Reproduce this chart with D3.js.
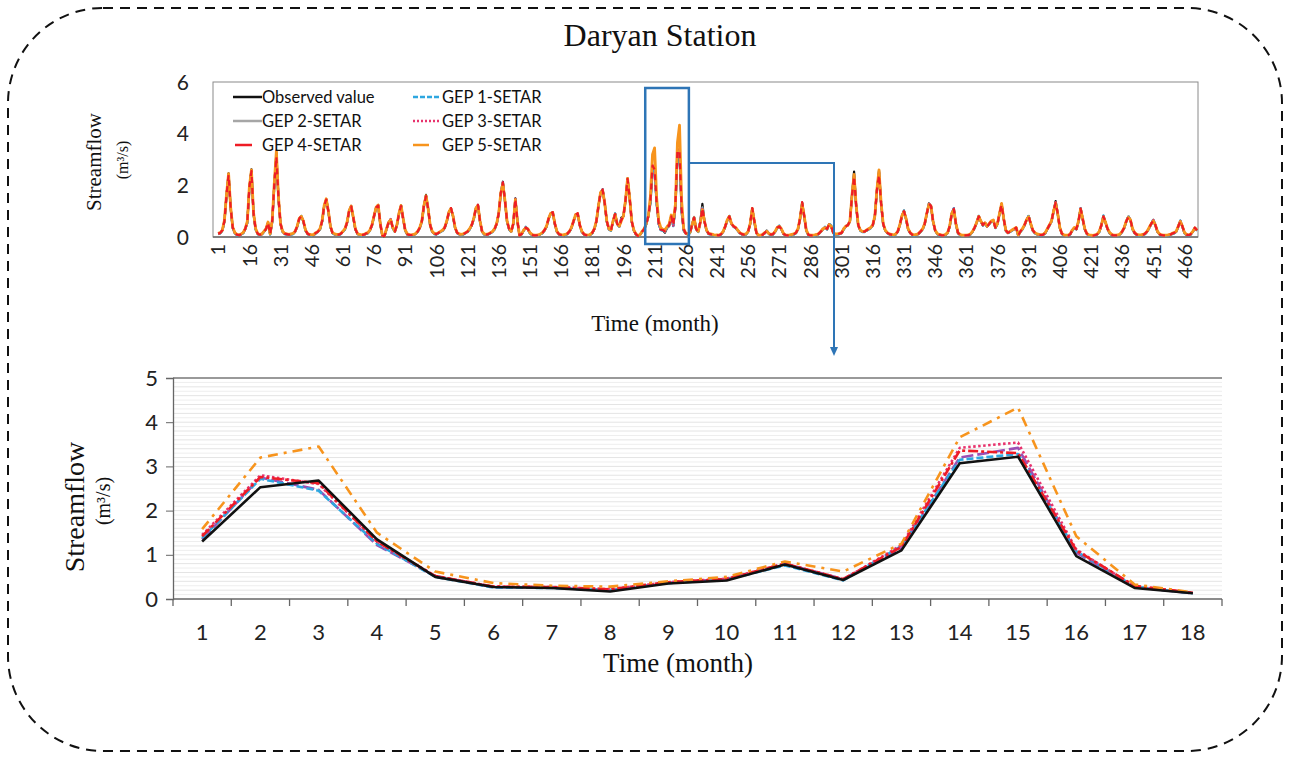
<!DOCTYPE html>
<html>
<head>
<meta charset="utf-8">
<script src="https://cdn.jsdelivr.net/npm/d3@7"></script>
<style>
  html, body { margin: 0; padding: 0; background: #fff; }
  svg { display: block; }
</style>
</head>
<body>
<svg id="chart" width="1290" height="757"></svg>
<script>
// Monthly streamflow (m3/s), months 1..472, Daryan station
const observed = [
  .12,.15,.25,.6,1.6,2.46,1.1,.35,.15,.08,.06,.1,
  .15,.3,.55,1.9,2.62,.9,.3,.12,.08,.1,.2,.3,
  .55,.1,.6,2,3.25,1.5,.5,.2,.12,.1,.08,.1,
  .12,.2,.4,.7,.79,.6,.25,.12,.08,.06,.08,.15,
  .2,.3,.6,1.2,1.46,1,.4,.15,.1,.08,.08,.12,
  .2,.3,.55,1,1.2,.75,.3,.12,.08,.06,.08,.12,
  .15,.25,.45,.8,1.15,1.24,.5,.05,.02,.3,.55,.68,
  .35,.2,.45,.9,1.22,.7,.25,.1,.07,.06,.08,.12,
  .2,.35,.6,1.2,1.63,1.1,.45,.2,.12,.1,.15,.2,
  .25,.35,.6,.95,1.11,.8,.35,.15,.1,.08,.1,.15,
  .2,.3,.45,.7,1.1,1.24,.6,.2,.1,.08,.1,.15,
  .2,.3,.5,.9,1.7,2.14,1.4,.6,.3,.2,.5,1.5,
  .6,.05,.1,.25,.37,.3,.15,.08,.05,.05,.06,.1,
  .15,.25,.4,.7,.9,.94,.5,.2,.1,.07,.06,.08,
  .12,.2,.35,.6,.85,.89,.45,.2,.1,.06,.05,.08,
  .15,.3,.6,1.2,1.7,1.85,1.3,.6,.3,.25,.6,.9,
  .5,.4,.75,.8,1.4,2.27,1.5,.6,.25,.1,.03,.08,
  .2,.3,.5,.8,1.3,2.53,2.68,1.35,.5,.27,.25,.17,
  .35,.42,.78,.43,1.1,3.07,3.22,.97,.25,.13,.1,.15,
  .45,.76,.3,.2,.6,1.28,.6,.25,.12,.1,.08,.05,
  .06,.05,.1,.2,.4,.65,.79,.5,.4,.35,.25,.15,
  .1,.08,.1,.2,.5,1.11,.6,.15,.05,.05,.08,.15,
  .25,.12,.08,.1,.2,.35,.4,.3,.12,.06,.05,.06,
  .08,.1,.15,.3,.7,1.33,.8,.25,.08,.05,.05,.06,
  .08,.12,.2,.3,.37,.3,.5,.4,.15,.1,.1,.12,
  .15,.3,.4,.46,.6,1.6,2.53,1.2,.45,.25,.2,.2,
  .25,.3,.35,.45,.8,1.8,2.57,1.3,.5,.25,.15,.1,
  .08,.06,.1,.2,.45,.8,1.02,.7,.3,.15,.08,.06,
  .08,.12,.2,.3,.5,.9,1.3,1.2,.6,.25,.12,.08,
  .06,.05,.08,.15,.4,.9,1.11,.5,.15,.08,.05,.05,
  .05,.06,.1,.2,.35,.55,.81,.6,.45,.55,.4,.5,
  .6,.64,.35,.5,.9,1.28,.7,.25,.15,.2,.25,.3,
  .35,.05,.2,.3,.45,.65,.81,.5,.25,.15,.1,.08,
  .06,.08,.15,.3,.45,.6,1,1.39,.9,.35,.12,.06,
  .05,.05,.1,.25,.35,.3,.6,1.11,.7,.3,.12,.06,
  .05,.04,.06,.1,.2,.45,.81,.55,.3,.15,.08,.05,
  .05,.06,.1,.2,.35,.6,.79,.65,.3,.15,.08,.06,
  .06,.08,.12,.2,.35,.5,.66,.45,.2,.1,.06,.05,
  .05,.06,.08,.12,.15,.2,.4,.62,.4,.15,.08,.06,
  .1,.2,.35,.25
];

const gep1 = [
  .11,.14,.24,.58,1.55,2.38,1.08,.34,.14,.07,.05,.09,
  .14,.29,.53,1.85,2.5,.88,.29,.11,.07,.09,.19,.29,
  .53,.09,.58,1.95,3,1.45,.48,.19,.11,.09,.07,.09,
  .11,.19,.39,.68,.82,.58,.24,.11,.07,.05,.07,.14,
  .19,.29,.58,1.18,1.42,.98,.39,.14,.09,.07,.07,.11,
  .19,.29,.54,.98,1.15,.73,.29,.11,.07,.05,.07,.11,
  .14,.24,.44,.78,1.12,1.2,.49,.05,.03,.29,.53,.7,
  .34,.19,.44,.88,1.18,.69,.24,.09,.06,.05,.07,.11,
  .19,.34,.59,1.18,1.55,1.08,.44,.19,.11,.09,.14,.19,
  .24,.34,.59,.93,1.08,.79,.34,.14,.09,.07,.09,.14,
  .19,.29,.44,.69,1.08,1.2,.59,.19,.09,.07,.09,.14,
  .19,.29,.49,.89,1.68,2.05,1.38,.59,.29,.19,.49,1.42,
  .59,.05,.09,.24,.4,.29,.14,.07,.04,.04,.05,.09,
  .14,.24,.39,.69,.89,.98,.49,.19,.09,.06,.05,.07,
  .11,.19,.34,.59,.84,.9,.44,.19,.09,.05,.04,.07,
  .14,.29,.59,1.18,1.68,1.8,1.29,.59,.29,.24,.59,.92,
  .49,.39,.68,.79,1.38,2.2,1.49,.59,.24,.09,.03,.07,
  .19,.29,.49,.79,1.38,2.72,2.45,1.25,.5,.26,.25,.2,
  .36,.44,.76,.42,1.2,3.15,3.28,1.08,.28,.13,.09,.14,
  .44,.8,.29,.19,.56,1.1,.59,.24,.11,.09,.07,.05,
  .05,.05,.09,.19,.39,.64,.82,.49,.39,.34,.24,.14,
  .09,.07,.09,.19,.49,1.08,.59,.14,.05,.05,.07,.14,
  .22,.11,.07,.09,.19,.34,.45,.29,.11,.05,.05,.05,
  .07,.09,.14,.29,.69,1.3,.79,.24,.07,.05,.05,.05,
  .07,.11,.19,.29,.4,.29,.52,.45,.14,.09,.09,.11,
  .14,.29,.39,.48,.59,1.58,2.32,1.19,.44,.24,.19,.19,
  .24,.29,.34,.44,.79,1.78,2.45,1.29,.49,.24,.14,.09,
  .07,.05,.09,.19,.44,.79,1.02,.69,.29,.14,.07,.05,
  .07,.11,.19,.29,.49,.89,1.26,1.19,.59,.24,.11,.07,
  .05,.05,.07,.14,.39,.89,1.12,.49,.14,.07,.05,.05,
  .05,.05,.09,.19,.34,.54,.82,.59,.44,.54,.39,.49,
  .59,.63,.34,.49,.89,1.26,.69,.24,.14,.19,.24,.29,
  .34,.05,.19,.29,.44,.64,.84,.49,.24,.14,.09,.07,
  .05,.07,.14,.29,.44,.59,.98,1.32,.89,.34,.11,.05,
  .05,.05,.09,.24,.34,.29,.59,1.12,.69,.29,.11,.05,
  .05,.04,.05,.09,.19,.44,.84,.54,.29,.14,.07,.05,
  .05,.05,.09,.19,.34,.59,.82,.64,.29,.14,.07,.05,
  .05,.07,.11,.19,.34,.49,.7,.44,.19,.09,.05,.05,
  .05,.05,.07,.11,.14,.19,.39,.64,.39,.14,.07,.05,
  .09,.19,.34,.24
];

const gep2 = [
  .12,.15,.25,.6,1.58,2.42,1.1,.35,.15,.08,.06,.1,
  .15,.3,.55,1.88,2.58,.9,.3,.12,.08,.1,.2,.3,
  .55,.1,.6,2,3.15,1.48,.5,.2,.12,.1,.08,.1,
  .12,.2,.4,.7,.8,.6,.25,.12,.08,.06,.08,.15,
  .2,.3,.6,1.2,1.44,1,.4,.15,.1,.08,.08,.12,
  .2,.3,.55,1,1.17,.75,.3,.12,.08,.06,.08,.12,
  .15,.25,.45,.8,1.13,1.22,.5,.05,.03,.3,.55,.7,
  .35,.2,.45,.9,1.2,.7,.25,.1,.07,.06,.08,.12,
  .2,.35,.6,1.2,1.58,1.1,.45,.2,.12,.1,.15,.2,
  .25,.35,.6,.95,1.1,.8,.35,.15,.1,.08,.1,.15,
  .2,.3,.45,.7,1.1,1.22,.6,.2,.1,.08,.1,.15,
  .2,.3,.5,.9,1.7,2.1,1.4,.6,.3,.2,.5,1.45,
  .6,.05,.1,.25,.38,.3,.15,.08,.05,.05,.06,.1,
  .15,.25,.4,.7,.9,.95,.5,.2,.1,.07,.06,.08,
  .12,.2,.35,.6,.85,.9,.45,.2,.1,.06,.05,.08,
  .15,.3,.6,1.2,1.7,1.83,1.3,.6,.3,.25,.6,.9,
  .5,.4,.7,.8,1.4,2.24,1.5,.6,.25,.1,.04,.08,
  .2,.3,.5,.8,1.35,2.75,2.47,1.22,.52,.27,.26,.2,
  .37,.45,.8,.45,1.15,3.2,3.42,1.05,.27,.13,.1,.15,
  .45,.78,.3,.2,.58,1.15,.6,.25,.12,.1,.08,.05,
  .06,.05,.1,.2,.4,.65,.81,.5,.4,.35,.25,.15,
  .1,.08,.1,.2,.5,1.1,.6,.15,.05,.05,.08,.15,
  .24,.12,.08,.1,.2,.35,.42,.3,.12,.06,.05,.06,
  .08,.1,.15,.3,.7,1.32,.8,.25,.08,.05,.05,.06,
  .08,.12,.2,.3,.38,.3,.5,.42,.15,.1,.1,.12,
  .15,.3,.4,.47,.6,1.6,2.4,1.2,.45,.25,.2,.2,
  .25,.3,.35,.45,.8,1.8,2.5,1.3,.5,.25,.15,.1,
  .08,.06,.1,.2,.45,.8,1.02,.7,.3,.15,.08,.06,
  .08,.12,.2,.3,.5,.9,1.28,1.2,.6,.25,.12,.08,
  .06,.05,.08,.15,.4,.9,1.12,.5,.15,.08,.05,.05,
  .05,.06,.1,.2,.35,.55,.82,.6,.45,.55,.4,.5,
  .6,.64,.35,.5,.9,1.27,.7,.25,.15,.2,.25,.3,
  .35,.05,.2,.3,.45,.65,.82,.5,.25,.15,.1,.08,
  .06,.08,.15,.3,.45,.6,1,1.35,.9,.35,.12,.06,
  .05,.05,.1,.25,.35,.3,.6,1.1,.7,.3,.12,.06,
  .05,.04,.06,.1,.2,.45,.82,.55,.3,.15,.08,.05,
  .05,.06,.1,.2,.35,.6,.8,.65,.3,.15,.08,.06,
  .06,.08,.12,.2,.35,.5,.67,.45,.2,.1,.06,.05,
  .05,.06,.08,.12,.15,.2,.4,.63,.4,.15,.08,.06,
  .1,.2,.35,.25
];

const gep3 = [
  .13,.16,.26,.63,1.63,2.44,1.13,.37,.16,.09,.07,.11,
  .16,.31,.58,1.93,2.6,.93,.32,.13,.09,.11,.21,.31,
  .57,.11,.63,2.05,3.2,1.53,.52,.21,.13,.11,.09,.11,
  .13,.21,.41,.72,.81,.62,.26,.13,.09,.07,.09,.16,
  .21,.31,.62,1.22,1.47,1.02,.42,.16,.11,.09,.09,.13,
  .21,.31,.57,1.02,1.19,.77,.31,.13,.09,.07,.09,.13,
  .16,.26,.47,.82,1.15,1.23,.52,.06,.03,.31,.57,.69,
  .37,.21,.47,.92,1.21,.72,.26,.11,.08,.07,.09,.13,
  .21,.37,.62,1.22,1.6,1.12,.47,.21,.13,.11,.16,.21,
  .26,.37,.62,.97,1.12,.82,.37,.16,.11,.09,.11,.16,
  .21,.31,.47,.72,1.12,1.24,.62,.21,.11,.09,.11,.16,
  .21,.31,.52,.92,1.72,2.12,1.42,.62,.31,.21,.52,1.48,
  .62,.06,.11,.26,.37,.31,.16,.09,.06,.06,.07,.11,
  .16,.26,.42,.72,.92,.96,.52,.21,.11,.08,.07,.09,
  .13,.21,.37,.62,.87,.91,.47,.21,.11,.07,.06,.09,
  .16,.31,.62,1.22,1.72,1.84,1.32,.62,.31,.26,.62,.9,
  .52,.42,.68,.82,1.42,2.26,1.52,.62,.26,.11,.04,.09,
  .21,.31,.52,.82,1.45,2.8,2.6,1.3,.52,.28,.27,.22,
  .38,.46,.8,.44,1.22,3.42,3.54,1.12,.28,.14,.11,.16,
  .46,.76,.31,.21,.57,1.13,.62,.26,.13,.11,.09,.06,
  .07,.06,.11,.21,.42,.67,.8,.52,.42,.37,.26,.16,
  .11,.09,.11,.21,.52,1.11,.62,.16,.06,.06,.09,.16,
  .23,.13,.09,.11,.21,.37,.41,.31,.13,.07,.06,.07,
  .09,.11,.16,.31,.72,1.32,.82,.26,.09,.06,.06,.07,
  .09,.13,.21,.31,.37,.31,.49,.41,.16,.11,.11,.13,
  .16,.31,.41,.46,.62,1.62,2.38,1.22,.47,.26,.21,.21,
  .26,.31,.36,.47,.82,1.83,2.52,1.32,.52,.26,.16,.11,
  .09,.07,.11,.21,.47,.82,1.01,.72,.31,.16,.09,.07,
  .09,.13,.21,.31,.52,.92,1.28,1.22,.62,.26,.13,.09,
  .07,.06,.09,.16,.42,.92,1.1,.52,.16,.09,.06,.06,
  .06,.07,.11,.21,.37,.57,.81,.62,.47,.56,.41,.51,
  .62,.65,.37,.52,.92,1.27,.72,.26,.16,.21,.26,.31,
  .37,.06,.21,.31,.47,.67,.81,.52,.26,.16,.11,.09,
  .07,.09,.16,.31,.47,.62,1.01,1.34,.92,.37,.13,.07,
  .06,.06,.11,.26,.37,.31,.62,1.1,.72,.31,.13,.07,
  .06,.05,.07,.11,.21,.47,.81,.57,.31,.16,.09,.06,
  .06,.07,.11,.21,.37,.62,.79,.67,.31,.16,.09,.07,
  .07,.09,.13,.21,.37,.52,.66,.47,.21,.11,.07,.06,
  .06,.07,.09,.13,.16,.21,.42,.62,.42,.16,.09,.07,
  .11,.21,.36,.26
];

const gep4 = [
  .13,.16,.26,.62,1.62,2.4,1.12,.36,.16,.09,.07,.11,
  .16,.31,.57,1.92,2.55,.92,.31,.13,.09,.11,.21,.31,
  .56,.11,.62,2.05,3.1,1.52,.51,.21,.13,.11,.09,.11,
  .13,.21,.41,.71,.8,.61,.26,.13,.09,.07,.09,.16,
  .21,.31,.61,1.21,1.45,1.01,.41,.16,.11,.09,.09,.13,
  .21,.31,.56,1.01,1.18,.76,.31,.13,.09,.07,.09,.13,
  .16,.26,.46,.81,1.14,1.22,.51,.06,.03,.31,.56,.67,
  .36,.21,.46,.91,1.2,.71,.26,.11,.08,.07,.09,.13,
  .21,.36,.61,1.21,1.58,1.11,.46,.21,.13,.11,.16,.21,
  .26,.36,.61,.96,1.12,.81,.36,.16,.11,.09,.11,.16,
  .21,.31,.46,.71,1.11,1.25,.61,.21,.11,.09,.11,.16,
  .21,.31,.51,.91,1.71,2.1,1.41,.61,.31,.21,.51,1.48,
  .61,.06,.11,.26,.36,.31,.16,.09,.06,.06,.07,.11,
  .16,.26,.41,.71,.91,.96,.51,.21,.11,.08,.07,.09,
  .13,.21,.36,.61,.86,.92,.46,.21,.11,.07,.06,.09,
  .16,.31,.61,1.21,1.71,1.82,1.31,.61,.31,.26,.61,.89,
  .51,.41,.66,.81,1.41,2.25,1.51,.61,.26,.11,.04,.09,
  .21,.31,.51,.81,1.42,2.76,2.62,1.3,.52,.28,.27,.22,
  .38,.45,.8,.45,1.18,3.36,3.3,1.1,.3,.14,.11,.16,
  .46,.75,.31,.21,.58,1.12,.61,.26,.13,.11,.09,.06,
  .07,.06,.11,.21,.41,.66,.8,.51,.41,.36,.26,.16,
  .11,.09,.11,.21,.51,1.12,.61,.16,.06,.06,.09,.16,
  .23,.13,.09,.11,.21,.36,.41,.31,.13,.07,.06,.07,
  .09,.11,.16,.31,.71,1.35,.81,.26,.09,.06,.06,.07,
  .09,.13,.21,.31,.37,.31,.49,.41,.16,.11,.11,.13,
  .16,.31,.41,.46,.61,1.61,2.35,1.21,.46,.26,.21,.21,
  .26,.31,.36,.46,.81,1.82,2.4,1.31,.51,.26,.16,.11,
  .09,.07,.11,.21,.46,.81,1,.71,.31,.16,.09,.07,
  .09,.13,.21,.31,.51,.91,1.28,1.21,.61,.26,.13,.09,
  .07,.06,.09,.16,.41,.91,1.08,.51,.16,.09,.06,.06,
  .06,.07,.11,.21,.36,.56,.8,.61,.46,.56,.41,.51,
  .61,.65,.36,.51,.91,1.25,.71,.26,.16,.21,.26,.31,
  .36,.06,.21,.31,.46,.66,.8,.51,.26,.16,.11,.09,
  .07,.09,.16,.31,.46,.61,1,1.33,.91,.36,.13,.07,
  .06,.06,.11,.26,.36,.31,.61,1.1,.71,.31,.13,.07,
  .06,.05,.07,.11,.21,.46,.8,.56,.31,.16,.09,.06,
  .06,.07,.11,.21,.36,.61,.78,.66,.31,.16,.09,.07,
  .07,.09,.13,.21,.36,.51,.64,.46,.21,.11,.07,.06,
  .06,.07,.09,.13,.16,.21,.41,.61,.41,.16,.09,.07,
  .11,.21,.36,.26
];

const gep5 = [
  .14,.17,.27,.65,1.65,2.45,1.15,.38,.17,.1,.08,.12,
  .17,.32,.6,1.95,2.6,.95,.33,.14,.1,.12,.22,.32,
  .58,.12,.65,2.1,3.34,1.55,.52,.22,.14,.12,.1,.12,
  .14,.22,.42,.72,.8,.62,.27,.14,.1,.08,.1,.17,
  .22,.32,.62,1.22,1.48,1.02,.42,.17,.12,.1,.1,.14,
  .22,.32,.57,1.02,1.2,.77,.32,.14,.1,.08,.1,.14,
  .17,.27,.47,.82,1.15,1.24,.52,.07,.04,.32,.57,.66,
  .37,.22,.47,.92,1.22,.72,.27,.12,.09,.08,.1,.14,
  .22,.37,.62,1.22,1.6,1.12,.47,.22,.14,.12,.17,.22,
  .27,.37,.62,.97,1.1,.82,.37,.17,.12,.1,.12,.17,
  .22,.32,.47,.72,1.12,1.22,.62,.22,.12,.1,.12,.17,
  .22,.32,.52,.92,1.72,2.05,1.42,.62,.32,.22,.52,1.45,
  .62,.07,.12,.27,.35,.32,.17,.1,.07,.07,.08,.12,
  .17,.27,.42,.72,.92,.95,.52,.22,.12,.09,.08,.1,
  .14,.22,.37,.62,.87,.9,.47,.22,.12,.08,.07,.1,
  .17,.32,.62,1.22,1.72,1.8,1.32,.62,.32,.27,.62,.88,
  .52,.42,.62,.82,1.42,2.27,1.52,.62,.27,.12,.05,.1,
  .22,.32,.52,.82,1.58,3.2,3.45,1.5,.62,.36,.3,.28,
  .4,.5,.85,.62,1.25,3.66,4.33,1.42,.33,.15,.12,.17,
  .47,.74,.32,.22,.55,1.05,.62,.27,.14,.12,.1,.07,
  .08,.07,.12,.22,.42,.67,.8,.52,.42,.37,.27,.17,
  .12,.1,.12,.22,.52,1.1,.62,.17,.07,.07,.1,.17,
  .22,.14,.1,.12,.22,.37,.42,.32,.14,.08,.07,.08,
  .1,.12,.17,.32,.72,1.28,.82,.27,.1,.07,.07,.08,
  .1,.14,.22,.32,.36,.32,.48,.42,.17,.12,.12,.14,
  .17,.32,.42,.45,.62,1.62,2.42,1.22,.47,.27,.22,.22,
  .27,.32,.37,.47,.82,1.85,2.6,1.32,.52,.27,.17,.12,
  .1,.08,.12,.22,.47,.82,.98,.72,.32,.17,.1,.08,
  .1,.14,.22,.32,.52,.92,1.25,1.2,.62,.27,.14,.1,
  .08,.07,.1,.17,.42,.92,1.05,.52,.17,.1,.07,.07,
  .07,.08,.12,.22,.37,.57,.8,.62,.47,.55,.42,.52,
  .62,.66,.37,.52,.92,1.3,.72,.27,.17,.22,.27,.32,
  .37,.07,.22,.32,.47,.67,.78,.52,.27,.17,.12,.1,
  .08,.1,.17,.32,.47,.62,1,1.3,.9,.37,.14,.08,
  .07,.07,.12,.27,.37,.32,.62,1.08,.72,.32,.14,.08,
  .07,.06,.08,.12,.22,.47,.78,.57,.32,.17,.1,.07,
  .07,.08,.12,.22,.37,.62,.76,.67,.32,.17,.1,.08,
  .08,.1,.14,.22,.37,.52,.62,.47,.22,.12,.08,.07,
  .07,.08,.1,.14,.17,.22,.42,.6,.42,.17,.1,.08,
  .12,.22,.35,.27
];

const seriesNames = ["Observed value", "GEP 1-SETAR", "GEP 2-SETAR", "GEP 3-SETAR", "GEP 4-SETAR", "GEP 5-SETAR"];
const topTickMonths = [1,16,31,46,61,76,91,106,121,136,151,166,181,196,211,226,241,256,271,286,301,316,331,346,361,376,391,406,421,436,451,466];
const topYTicks = [0, 2, 4, 6];
const zoomFirstMonth = 209;   // first month shown in the detail panel
const zoomMonths = [1,2,3,4,5,6,7,8,9,10,11,12,13,14,15,16,17,18];
const bottomYTicks = [0, 1, 2, 3, 4, 5];

const allSeries = { observed, gep1, gep2, gep3, gep4, gep5 };

const svg = d3.select("#chart");
const SANS = "Lato, 'Liberation Sans', sans-serif";
const SERIF = "'Liberation Serif', 'Times New Roman', serif";

// Outer dashed frame
svg.append("rect")
  .attr("x", 8).attr("y", 8).attr("width", 1274).attr("height", 743)
  .attr("rx", 95).attr("ry", 95)
  .attr("fill", "none").attr("stroke", "#111").attr("stroke-width", 2)
  .attr("stroke-dasharray", "10,7");

svg.append("text")
  .attr("x", 660).attr("y", 46).attr("text-anchor", "middle")
  .attr("font-family", SERIF).attr("font-size", 32).attr("fill", "#111")
  .text("Daryan Station");

// ---------- Full record panel ----------
const T = { left: 213, right: 1198, top: 82, bottom: 237 };
const xTop = d3.scaleLinear().domain([-1.5, 472.5]).range([T.left, T.right]);
const yTop = d3.scaleLinear().domain([0, 6]).range([T.bottom, T.top]);

svg.append("rect")
  .attr("x", T.left).attr("y", T.top).attr("width", T.right - T.left).attr("height", T.bottom - T.top)
  .attr("fill", "#fff").attr("stroke", "#8a8a8a").attr("stroke-width", 1);
svg.append("line")
  .attr("x1", T.left).attr("x2", T.right).attr("y1", T.bottom).attr("y2", T.bottom)
  .attr("stroke", "#6b6b6b").attr("stroke-width", 1.5);

const topYAxis = svg.append("g");
topYAxis.selectAll("text").data(topYTicks).join("text")
  .attr("x", 189).attr("y", d => yTop(d)).attr("dy", "0.36em")
  .attr("text-anchor", "end").attr("font-family", SANS).attr("font-size", 21).attr("fill", "#222")
  .text(d => d);

const topXAxis = svg.append("g");
topXAxis.selectAll("text").data(topTickMonths).join("text")
  .attr("transform", d => `translate(${xTop(d)},244) rotate(-90)`)
  .attr("text-anchor", "end").attr("dy", "0.36em")
  .attr("font-family", SANS).attr("font-size", 20).attr("fill", "#222")
  .text(d => d);

svg.append("text")
  .attr("transform", "translate(101,162) rotate(-90)")
  .attr("text-anchor", "middle").attr("font-family", SERIF).attr("font-size", 21).attr("fill", "#111")
  .text("Streamflow");
svg.append("text")
  .attr("transform", "translate(128,160) rotate(-90)")
  .attr("text-anchor", "middle").attr("font-family", SERIF).attr("font-size", 16).attr("fill", "#111")
  .text("(m³/s)");
svg.append("text")
  .attr("x", 655).attr("y", 331).attr("text-anchor", "middle")
  .attr("font-family", SERIF).attr("font-size", 23).attr("fill", "#111")
  .text("Time (month)");

const topLine = d3.line()
  .x((d, i) => xTop(i + 1))
  .y(d => yTop(d));

const topStyles = [
  { key: "observed", color: "#111111", width: 2.2, dash: null },
  { key: "gep2", color: "#a6a6a6", width: 2.2, dash: null },
  { key: "gep1", color: "#2ea7e0", width: 2.2, dash: "5,2" },
  { key: "gep3", color: "#e8336d", width: 2.2, dash: "2,2" },
  { key: "gep5", color: "#f7941d", width: 2.8, dash: null },
  { key: "gep4", color: "#ee1c25", width: 2.2, dash: "6,5" }
];
const topG = svg.append("g");
topStyles.forEach(s => {
  topG.append("path")
    .datum(allSeries[s.key])
    .attr("d", topLine)
    .attr("fill", "none")
    .attr("stroke", s.color)
    .attr("stroke-width", s.width)
    .attr("stroke-linejoin", "round")
    .attr("stroke-dasharray", s.dash);
});

// Legend
const legendItems = [
  { name: seriesNames[0], color: "#111111", dash: null, x: 233, y: 97, len: 29 },
  { name: seriesNames[2], color: "#a6a6a6", dash: null, x: 233, y: 121, len: 29 },
  { name: seriesNames[4], color: "#ee1c25", dash: "17,20", x: 235, y: 145, len: 27 },
  { name: seriesNames[1], color: "#2ea7e0", dash: "5,2", x: 413, y: 97, len: 27 },
  { name: seriesNames[3], color: "#e8336d", dash: "2,2", x: 413, y: 121, len: 27 },
  { name: seriesNames[5], color: "#f7941d", dash: "16,20", x: 413, y: 145, len: 27 }
];
const lg = svg.append("g");
legendItems.forEach(it => {
  lg.append("line")
    .attr("x1", it.x).attr("x2", it.x + it.len).attr("y1", it.y).attr("y2", it.y)
    .attr("stroke", it.color).attr("stroke-width", 2.5).attr("stroke-dasharray", it.dash);
  lg.append("text")
    .attr("x", it.x < 300 ? 262 : 442).attr("y", it.y).attr("dy", "0.36em")
    .attr("font-family", SANS).attr("font-size", 16.5).attr("fill", "#111")
    .text(it.name);
});

// Highlight box and connector to the detail panel
const boxL = xTop(zoomFirstMonth - 2.5), boxR = xTop(zoomFirstMonth + zoomMonths.length + 0.5);
svg.append("rect")
  .attr("x", boxL).attr("y", 88).attr("width", boxR - boxL).attr("height", 156)
  .attr("fill", "none").attr("stroke", "#2e75b6").attr("stroke-width", 2.5);
svg.append("path")
  .attr("d", `M${boxR},163 H834 V349`)
  .attr("fill", "none").attr("stroke", "#2e75b6").attr("stroke-width", 2);
svg.append("path")
  .attr("d", "M830,347 L838,347 L834,356 Z")
  .attr("fill", "#2e75b6");

// ---------- Detail panel ----------
const B = { left: 173, right: 1222, top: 378, bottom: 599 };
const xBot = d3.scaleBand().domain(zoomMonths).range([B.left, B.right]).padding(0);
const yBot = d3.scaleLinear().domain([0, 5]).range([B.bottom, B.top]);

const gridG = svg.append("g");
gridG.selectAll("line").data(d3.range(1, 50).map(d => d / 10)).join("line")
  .attr("x1", B.left).attr("x2", B.right)
  .attr("y1", d => yBot(d)).attr("y2", d => yBot(d))
  .attr("stroke", (d, i) => i % 2 === 0 ? "#eeeeee" : "#e4e4e4").attr("stroke-width", 1);

svg.append("line")
  .attr("x1", B.left).attr("x2", B.right).attr("y1", B.top).attr("y2", B.top)
  .attr("stroke", "#777").attr("stroke-width", 1.3);

const yAxisB = d3.axisLeft(yBot).tickValues(bottomYTicks).tickSize(7).tickFormat(d => d);
const yAxG = svg.append("g").attr("transform", `translate(${B.left},0)`).call(yAxisB);
yAxG.select(".domain").attr("stroke", "#666").attr("stroke-width", 1.3);
yAxG.selectAll(".tick line").attr("stroke", "#666");
yAxG.selectAll(".tick text").attr("font-family", SANS).attr("font-size", 22).attr("fill", "#222").attr("x", -15);

const xAxG = svg.append("g").attr("transform", `translate(0,${B.bottom})`);
xAxG.append("line").attr("x1", B.left).attr("x2", B.right).attr("stroke", "#666").attr("stroke-width", 1.3);
xAxG.selectAll("line.tk").data(zoomMonths.concat([zoomMonths.length + 1])).join("line").attr("class", "tk")
  .attr("x1", d => B.left + (d - 1) * xBot.bandwidth()).attr("x2", d => B.left + (d - 1) * xBot.bandwidth())
  .attr("y1", 0).attr("y2", 7).attr("stroke", "#666").attr("stroke-width", 1.3);
xAxG.selectAll("text").data(zoomMonths).join("text")
  .attr("x", d => xBot(d) + xBot.bandwidth() / 2).attr("y", 41)
  .attr("text-anchor", "middle").attr("font-family", SANS).attr("font-size", 22).attr("fill", "#222")
  .text(d => d);

svg.append("text")
  .attr("transform", "translate(84,507) rotate(-90)")
  .attr("text-anchor", "middle").attr("font-family", SERIF).attr("font-size", 28).attr("fill", "#111")
  .text("Streamflow");
svg.append("text")
  .attr("transform", "translate(104,501) rotate(-90)")
  .attr("text-anchor", "middle").attr("dy", "0.3em").attr("font-family", SERIF).attr("font-size", 20).attr("fill", "#111")
  .text("(m³/s)");
svg.append("text")
  .attr("x", 678).attr("y", 672).attr("text-anchor", "middle")
  .attr("font-family", SERIF).attr("font-size", 27).attr("fill", "#111")
  .text("Time (month)");

const botLine = d3.line()
  .x((d, i) => xBot(zoomMonths[i]) + xBot.bandwidth() / 2)
  .y(d => yBot(d));

const botStyles = [
  { key: "gep2", color: "#9b4fb4", dash: "12,4" },
  { key: "gep1", color: "#2ea7e0", dash: "7,3" },
  { key: "gep3", color: "#e8336d", dash: "2.5,2.5" },
  { key: "gep4", color: "#ee1c25", dash: "10,3,3,3" },
  { key: "gep5", color: "#f7941d", dash: "10,6,3,6" },
  { key: "observed", color: "#111111", dash: null }
];
const botG = svg.append("g");
botStyles.forEach(s => {
  const vals = allSeries[s.key].slice(zoomFirstMonth - 1, zoomFirstMonth - 1 + zoomMonths.length);
  botG.append("path")
    .datum(vals)
    .attr("d", botLine)
    .attr("fill", "none")
    .attr("stroke", s.color)
    .attr("stroke-width", 2.6)
    .attr("stroke-linejoin", "round")
    .attr("stroke-dasharray", s.dash);
});
</script>
</body>
</html>
